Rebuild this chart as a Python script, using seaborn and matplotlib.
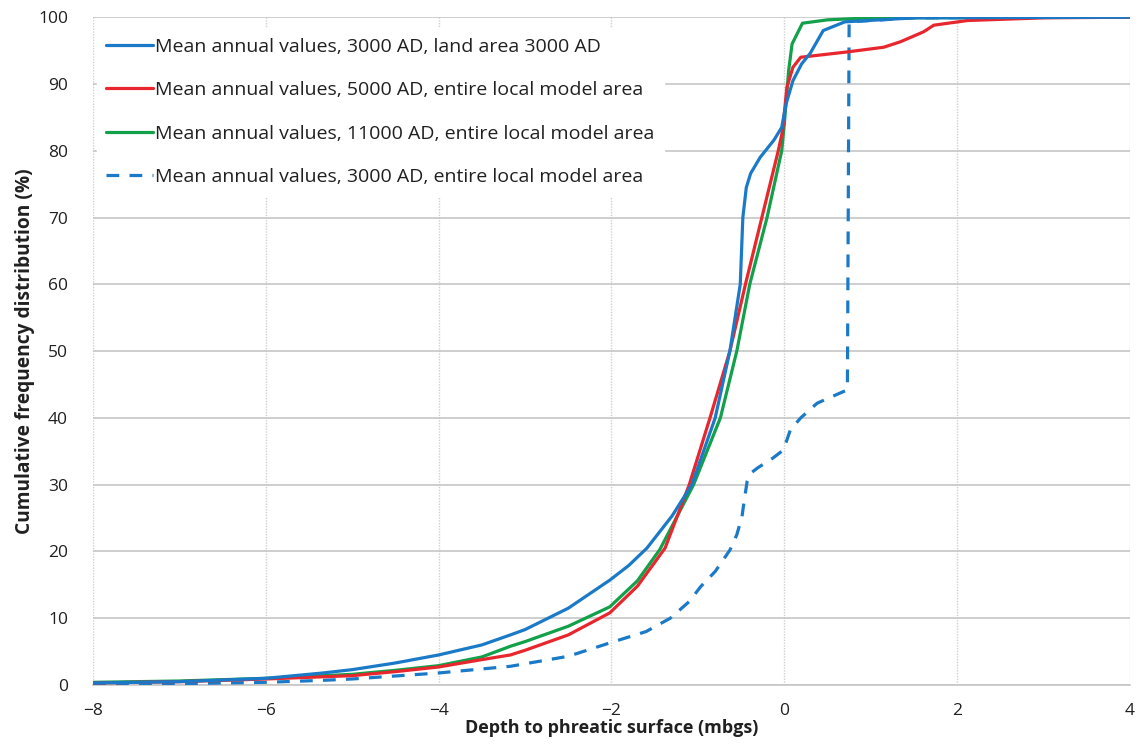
import matplotlib
matplotlib.use("Agg")
import matplotlib.pyplot as plt
import seaborn as sns

# Cumulative distributions of depth to the phreatic surface (mbgs vs %)
land3000_x = [-8, -7, -6, -5.34, -5, -4.5, -4, -3.5, -3.17, -3, -2.5, -2.02, -1.8, -1.59, -1.3,
              -1.07, -0.8, -0.63, -0.51, -0.48, -0.44, -0.39, -0.28, -0.12, -0.03, 0.02, 0.1,
              0.2, 0.3, 0.45, 0.7, 1.5, 4]
land3000_y = [0.3, 0.5, 1.0, 1.8, 2.3, 3.3, 4.5, 6.0, 7.5, 8.3, 11.5, 15.7, 17.9, 20.5, 25.3,
              30.0, 40.0, 50.0, 60.0, 70.0, 74.5, 76.6, 79.0, 81.6, 83.5, 87.0, 90.5,
              93.0, 94.6, 98.0, 99.3, 99.9, 100]

y5000_x = [-8, -7, -6, -5, -4.5, -4, -3.5, -3.17, -3, -2.5, -2.02, -1.7, -1.38, -1.1, -0.86,
           -0.63, -0.45, -0.26, -0.07, -0.02, 0.03, 0.1, 0.19, 0.73, 1.15, 1.34, 1.61, 1.73,
           2.12, 3, 4]
y5000_y = [0.3, 0.5, 0.9, 1.4, 2.0, 2.7, 3.8, 4.5, 5.2, 7.5, 10.8, 14.8, 20.5, 30.0, 40.0,
           50.0, 60.0, 70.0, 80.0, 83.0, 89.5, 92.5, 94.0, 94.8, 95.5, 96.3, 97.8, 98.8,
           99.5, 99.9, 100]

y11000_x = [-8, -7, -6, -5, -4.5, -4, -3.5, -3.17, -3, -2.5, -2.02, -1.7, -1.44, -1.05, -0.74,
            -0.55, -0.40, -0.2, -0.03, 0.0, 0.05, 0.09, 0.21, 0.5, 1, 4]
y11000_y = [0.4, 0.6, 1.0, 1.6, 2.2, 2.9, 4.2, 5.8, 6.5, 8.8, 11.7, 15.6, 20.3, 30.0, 40.0,
            50.0, 60.0, 70.0, 80.0, 84.0, 92.0, 96.0, 99.1, 99.6, 99.9, 100]

entire3000_x = [-8, -7, -6, -5.34, -5, -4, -3.17, -2.5, -2.02, -1.6, -1.32, -1.1, -0.97, -0.8,
                -0.63, -0.55, -0.49, -0.46, -0.43, -0.38, -0.31, -0.13, -0.01, 0.07, 0.19,
                0.38, 0.73, 0.75, 1.5, 4]
entire3000_y = [0.1, 0.2, 0.4, 0.7, 0.9, 1.8, 2.8, 4.3, 6.3, 8.0, 10.0, 12.5, 14.7, 17.0,
                20.2, 22.5, 25.2, 28.0, 30.5, 31.8, 32.5, 34.0, 35.2, 38.2, 40.0,
                42.2, 44.2, 99.3, 99.9, 100]

labels = ["Mean annual values, 3000 AD, land area 3000 AD",
          "Mean annual values, 5000 AD, entire local model area",
          "Mean annual values, 11000 AD, entire local model area",
          "Mean annual values, 3000 AD, entire local model area"]
colors = ["#1a7ac8", "#e8262d", "#12a04a", "#1a7ac8"]

x_ticks = [-8, -6, -4, -2, 0, 2, 4]
y_ticks = [0, 10, 20, 30, 40, 50, 60, 70, 80, 90, 100]

sns.set_style("white")
plt.rcParams["font.family"] = ["Open Sans", "DejaVu Sans"]

fig = plt.figure(figsize=(11.4, 7.47), dpi=100)
ax = fig.add_axes([0.0816, 0.083, 0.9096, 0.894])

series = [(land3000_x, land3000_y), (y5000_x, y5000_y), (y11000_x, y11000_y),
          (entire3000_x, entire3000_y)]
for i, ((xs, ys), lab, col) in enumerate(zip(series, labels, colors)):
    sns.lineplot(x=xs, y=ys, ax=ax, sort=False, estimator=None, color=col,
                 linewidth=2.3, label=lab, zorder=3 + (3 - i))
ax.lines[3].set_dashes([4, 3.2])

ax.set_xlim(-8, 4)
ax.set_ylim(0, 100)
ax.set_xticks(x_ticks)
ax.set_yticks(y_ticks)

# gridlines: solid horizontal, dotted vertical
ax.yaxis.grid(True, color="#c6c6c6", linewidth=1.2, linestyle="-", zorder=0)
ax.xaxis.grid(True, color="#cfcfcf", linewidth=1.0, linestyle=(0, (1, 1)), zorder=0)
ax.set_axisbelow(True)

for s in ["top", "left", "right"]:
    ax.spines[s].set_visible(False)
ax.spines["bottom"].set_color("#c6c6c6")
ax.spines["bottom"].set_linewidth(1.2)

ax.tick_params(axis="both", which="both", direction="out", length=6,
               color="#c6c6c6", labelsize=12.5, labelcolor="#202020")
ax.tick_params(axis="x", pad=7)
ax.tick_params(axis="y", pad=12)

ax.set_xlabel("Depth to phreatic surface (mbgs)", fontsize=13, fontweight="bold",
              color="#202020", labelpad=0)
ax.set_ylabel("Cumulative frequency distribution (%)", fontsize=13.8, fontweight="bold",
              color="#202020", labelpad=2)

leg = ax.legend(loc="upper left", bbox_to_anchor=(-0.006, 0.998), frameon=True,
                fontsize=14, handlelength=2.4, handletextpad=0.1,
                labelspacing=1.3, borderpad=0.5, fancybox=False)
leg.get_frame().set_facecolor("white")
leg.get_frame().set_edgecolor("white")
leg.get_frame().set_alpha(1.0)
for t in leg.get_texts():
    t.set_color("#202020")

fig.savefig("out.png", dpi=100)
